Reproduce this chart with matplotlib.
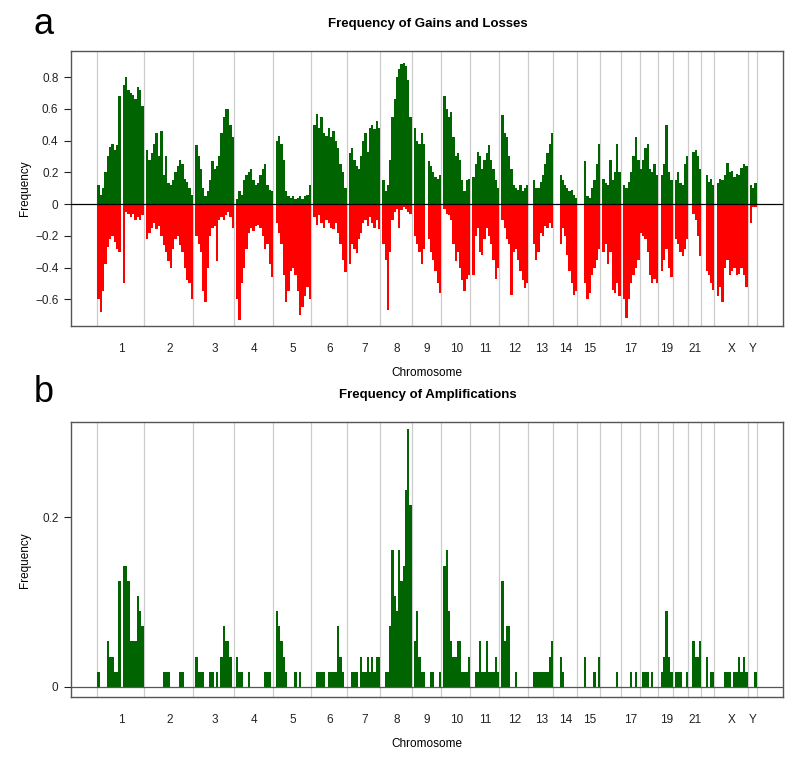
import numpy as np
import matplotlib
matplotlib.use("Agg")
import matplotlib.pyplot as plt

plt.rcParams['font.family'] = ['Liberation Sans', 'DejaVu Sans']

chrom_names = ['1', '2', '3', '4', '5', '6', '7', '8', '9', '10', '11', '12',
               '13', '14', '15', '16', '17', '18', '19', '20', '21', '22', 'X', 'Y']
# labels R kept (the others overlapped and were dropped)
tick_names = ['1', '2', '3', '4', '5', '6', '7', '8', '9', '10', '11', '12',
              '13', '14', '15', '', '17', '', '19', '', '21', '', 'X', 'Y']
# chromosome lengths in Mb
chrom_len = [227, 243, 199, 193, 185, 175, 165, 154, 145, 142, 142, 144,
             121, 118, 113, 100, 93, 91, 72, 75, 64, 64, 164, 44]

# frequency of gains per chromosome (evenly spaced segments)
gains = [
    [0.12, 0.06, 0.1, 0.2, 0.3, 0.36, 0.38, 0.34, 0.37, 0.68, 0.0, 0.75, 0.8, 0.72, 0.7, 0.69, 0.66, 0.74, 0.72, 0.62],
    [0.0, 0.34, 0.28, 0.32, 0.38, 0.45, 0.3, 0.46, 0.18, 0.3, 0.13, 0.12, 0.15, 0.2, 0.24, 0.28, 0.25, 0.16, 0.14, 0.1, 0.06],
    [0.0, 0.37, 0.3, 0.22, 0.1, 0.05, 0.08, 0.15, 0.27, 0.22, 0.24, 0.3, 0.45, 0.55, 0.6, 0.6, 0.5, 0.42],
    [0.0, 0.03, 0.08, 0.06, 0.15, 0.18, 0.2, 0.22, 0.15, 0.12, 0.13, 0.18, 0.22, 0.25, 0.12, 0.09, 0.08],
    [0.0, 0.4, 0.43, 0.38, 0.28, 0.08, 0.05, 0.04, 0.05, 0.03, 0.04, 0.05, 0.03, 0.05, 0.06, 0.12],
    [0.0, 0.5, 0.57, 0.48, 0.55, 0.45, 0.43, 0.48, 0.42, 0.46, 0.4, 0.35, 0.25, 0.2, 0.1],
    [0.0, 0.32, 0.35, 0.28, 0.24, 0.22, 0.3, 0.4, 0.45, 0.33, 0.48, 0.5, 0.47, 0.52, 0.48],
    [0.0, 0.15, 0.08, 0.12, 0.28, 0.55, 0.66, 0.8, 0.85, 0.88, 0.89, 0.87, 0.78, 0.55],
    [0.0, 0.48, 0.4, 0.38, 0.45, 0.38, 0.0, 0.27, 0.24, 0.2, 0.17, 0.16, 0.18],
    [0.0, 0.68, 0.6, 0.55, 0.58, 0.42, 0.3, 0.32, 0.28, 0.15, 0.08, 0.15, 0.16],
    [0.0, 0.17, 0.25, 0.33, 0.3, 0.22, 0.28, 0.32, 0.37, 0.28, 0.22, 0.15, 0.1],
    [0.0, 0.56, 0.45, 0.42, 0.3, 0.22, 0.12, 0.1, 0.09, 0.12, 0.08, 0.1, 0.12],
    [0.0, 0.0, 0.15, 0.1, 0.1, 0.14, 0.18, 0.25, 0.32, 0.38, 0.45],
    [0.0, 0.0, 0.0, 0.18, 0.15, 0.12, 0.1, 0.08, 0.09, 0.06, 0.04],
    [0.0, 0.0, 0.0, 0.27, 0.05, 0.04, 0.1, 0.15, 0.25, 0.38],
    [0.0, 0.16, 0.13, 0.12, 0.28, 0.15, 0.2, 0.38, 0.2],
    [0.0, 0.12, 0.1, 0.14, 0.2, 0.3, 0.42, 0.28],
    [0.22, 0.28, 0.35, 0.38, 0.22, 0.2, 0.25, 0.18],
    [0.0, 0.18, 0.25, 0.5, 0.2, 0.15],
    [0.0, 0.15, 0.2, 0.13, 0.12, 0.25, 0.3],
    [0.0, 0.0, 0.33, 0.34, 0.3, 0.22],
    [0.0, 0.0, 0.18, 0.14, 0.16, 0.12],
    [0.0, 0.13, 0.16, 0.15, 0.18, 0.26, 0.2, 0.21, 0.17, 0.19, 0.18, 0.23, 0.25, 0.24],
    [0.0, 0.12, 0.1, 0.13],
]

# frequency of losses (negative)
losses = [
    [-0.6, -0.68, -0.55, -0.38, -0.27, -0.22, -0.2, -0.24, -0.28, -0.3, 0.0, -0.5, -0.05, -0.06, -0.08, -0.06, -0.1, -0.08, -0.1, -0.07],
    [0.0, -0.22, -0.18, -0.15, -0.12, -0.16, -0.14, -0.2, -0.26, -0.3, -0.36, -0.4, -0.28, -0.22, -0.2, -0.26, -0.3, -0.4, -0.48, -0.5, -0.6],
    [0.0, -0.2, -0.25, -0.3, -0.55, -0.62, -0.4, -0.2, -0.15, -0.14, -0.36, -0.1, -0.08, -0.1, -0.07, -0.05, -0.08, -0.15],
    [0.0, -0.6, -0.73, -0.5, -0.4, -0.28, -0.18, -0.15, -0.17, -0.14, -0.13, -0.15, -0.2, -0.28, -0.25, -0.38, -0.46],
    [0.0, -0.12, -0.18, -0.25, -0.45, -0.62, -0.55, -0.42, -0.4, -0.45, -0.55, -0.7, -0.65, -0.58, -0.52, -0.6],
    [0.0, -0.08, -0.13, -0.07, -0.12, -0.15, -0.1, -0.12, -0.15, -0.16, -0.12, -0.18, -0.25, -0.35, -0.43],
    [0.0, -0.38, -0.25, -0.28, -0.31, -0.22, -0.18, -0.12, -0.1, -0.14, -0.08, -0.12, -0.15, -0.1, -0.16],
    [0.0, -0.25, -0.35, -0.67, -0.3, -0.1, -0.05, -0.03, -0.15, -0.04, -0.02, -0.03, -0.05, -0.06],
    [0.0, -0.2, -0.25, -0.3, -0.38, -0.28, 0.0, -0.22, -0.3, -0.35, -0.42, -0.5, -0.56],
    [0.0, -0.03, -0.06, -0.07, -0.1, -0.25, -0.36, -0.3, -0.4, -0.48, -0.55, -0.47, -0.45],
    [0.0, -0.45, -0.2, -0.15, -0.3, -0.32, -0.22, -0.15, -0.2, -0.25, -0.35, -0.47, -0.4],
    [0.0, -0.1, -0.15, -0.22, -0.25, -0.57, -0.3, -0.28, -0.35, -0.42, -0.48, -0.53, -0.5],
    [0.0, 0.0, -0.25, -0.35, -0.3, -0.18, -0.2, -0.14, -0.15, -0.12, -0.15],
    [0.0, 0.0, 0.0, -0.25, -0.15, -0.2, -0.32, -0.42, -0.5, -0.57, -0.55],
    [0.0, 0.0, 0.0, -0.5, -0.6, -0.56, -0.45, -0.4, -0.35, -0.28],
    [0.0, -0.3, -0.25, -0.38, -0.3, -0.54, -0.56, -0.5, -0.58],
    [0.0, -0.6, -0.72, -0.6, -0.5, -0.45, -0.4, -0.35],
    [-0.18, -0.2, -0.22, -0.3, -0.45, -0.5, -0.47, -0.5],
    [0.0, -0.42, -0.35, -0.28, -0.4, -0.46],
    [0.0, -0.22, -0.25, -0.3, -0.33, -0.28, -0.22],
    [0.0, 0.0, -0.06, -0.1, -0.2, -0.33],
    [0.0, 0.0, -0.42, -0.45, -0.5, -0.54],
    [0.0, -0.58, -0.52, -0.62, -0.4, -0.35, -0.45, -0.42, -0.4, -0.45, -0.44, -0.4, -0.45, -0.52],
    [0.0, -0.12, -0.02, -0.02],
]

# number of amplified samples per segment (out of n_samples)
n_samples = 56
amp_counts = [
    [1, 0, 0, 0, 3, 2, 2, 1, 1, 7, 0, 8, 8, 7, 3, 3, 3, 6, 5, 4],
    [0, 0, 0, 0, 0, 0, 0, 0, 1, 1, 1, 0, 0, 0, 0, 1, 1, 0, 0, 0, 0],
    [0, 2, 1, 1, 1, 0, 0, 1, 1, 0, 1, 0, 2, 4, 3, 3, 2, 0],
    [0, 2, 1, 1, 0, 0, 1, 0, 0, 0, 0, 0, 0, 1, 1, 1, 0],
    [0, 5, 4, 3, 2, 1, 0, 0, 0, 1, 0, 1, 0, 0, 0, 0],
    [0, 0, 1, 1, 1, 1, 0, 1, 1, 1, 1, 4, 2, 1, 0],
    [0, 0, 1, 1, 1, 0, 2, 1, 1, 2, 1, 2, 1, 2, 2],
    [0, 0, 1, 1, 4, 9, 6, 5, 9, 7, 8, 13, 17, 12],
    [0, 3, 5, 2, 1, 1, 0, 0, 1, 1, 0, 0, 1],
    [0, 8, 9, 5, 3, 2, 2, 3, 3, 1, 1, 1, 2],
    [0, 0, 1, 1, 3, 1, 1, 3, 1, 1, 1, 2, 1],
    [0, 7, 3, 4, 4, 0, 0, 1, 0, 0, 0, 0, 0],
    [0, 0, 1, 1, 1, 1, 1, 1, 1, 2, 3],
    [0, 0, 0, 2, 1, 0, 0, 0, 0, 0, 0],
    [0, 0, 0, 2, 0, 0, 0, 1, 0, 2],
    [0, 0, 0, 0, 0, 0, 0, 1, 0],
    [0, 0, 0, 0, 1, 0, 1, 0],
    [0, 1, 1, 1, 0, 1, 0, 0],
    [0, 1, 2, 5, 2, 1],
    [0, 1, 1, 1, 0, 0, 1],
    [0, 0, 3, 2, 2, 3],
    [0, 0, 2, 0, 1, 1],
    [0, 0, 0, 0, 1, 1, 1, 0, 1, 1, 2, 1, 2, 1],
    [0, 0, 0, 1],
]

green = '#006400'
red = '#ff0000'

starts = np.concatenate([[0], np.cumsum(chrom_len)[:-1]])
total = float(np.sum(chrom_len))
centers = starts + np.array(chrom_len) / 2.0
bounds = np.concatenate([starts, [total]])

fig = plt.figure(figsize=(8, 7.67), dpi=100)
ax1 = fig.add_axes([0.08875, 0.575, 0.89, 0.3585])
ax2 = fig.add_axes([0.08875, 0.0909, 0.89, 0.359])


def setup(ax, ylim, yticks, yticklabels):
    for b in bounds:
        ax.axvline(b, color='#cccccc', lw=0.9, zorder=0)
    ax.set_xlim(-0.04 * total, 1.04 * total)
    ax.set_ylim(*ylim)
    ax.set_yticks(yticks)
    ax.set_yticklabels(yticklabels)
    ax.set_xticks(centers + 4)
    ax.set_xticklabels(tick_names)
    ax.tick_params(axis='x', length=0, pad=12, labelsize=8.5, colors='#222222')
    ax.tick_params(axis='y', length=5, width=0.8, pad=4, labelsize=8.5,
                   colors='#222222', direction='out')
    for s in ax.spines.values():
        s.set_color('#555555')
        s.set_linewidth(1.0)


# panel a: gains and losses
for i in range(len(chrom_names)):
    edges = np.linspace(starts[i], starts[i] + chrom_len[i], len(gains[i]) + 1)
    ax1.stairs(gains[i], edges, fill=True, color=green, baseline=0, zorder=2)
    ax1.stairs(losses[i], edges, fill=True, color=red, baseline=0, zorder=2)
ax1.axhline(0, color='black', lw=0.9, zorder=3)
setup(ax1, (-0.768, 0.964),
      [-0.6, -0.4, -0.2, 0, 0.2, 0.4, 0.6, 0.8],
      ['\u22120.6', '\u22120.4', '\u22120.2', '0', '0.2', '0.4', '0.6', '0.8'])

# panel b: amplifications
for i in range(len(chrom_names)):
    edges = np.linspace(starts[i], starts[i] + chrom_len[i], len(amp_counts[i]) + 1)
    freq = np.array(amp_counts[i]) / n_samples
    ax2.stairs(freq, edges, fill=True, color=green, baseline=0, zorder=2)
ax2.axhline(0, color='#555555', lw=0.9, zorder=3)
setup(ax2, (-0.0121, 0.312), [0, 0.2], ['0', '0.2'])

fig.text(428 / 800, 1 - 24 / 767, 'Frequency of Gains and Losses',
         ha='center', va='center', fontsize=9.5, fontweight='bold')
fig.text(428 / 800, 1 - 395 / 767, 'Frequency of Amplifications',
         ha='center', va='center', fontsize=9.5, fontweight='bold')
fig.text(44 / 800, 1 - 24 / 767, 'a', ha='center', va='center', fontsize=26)
fig.text(44 / 800, 1 - 392 / 767, 'b', ha='center', va='center', fontsize=26)
fig.text(427 / 800, 1 - 373 / 767, 'Chromosome', ha='center', va='center', fontsize=8.5)
fig.text(427 / 800, 1 - 744 / 767, 'Chromosome', ha='center', va='center', fontsize=8.5)
fig.text(25 / 800, 1 - 188 / 767, 'Frequency', ha='center', va='center',
         rotation=90, fontsize=8.5)
fig.text(25 / 800, 1 - 560 / 767, 'Frequency', ha='center', va='center',
         rotation=90, fontsize=8.5)

fig.savefig('out.png', dpi=100)
